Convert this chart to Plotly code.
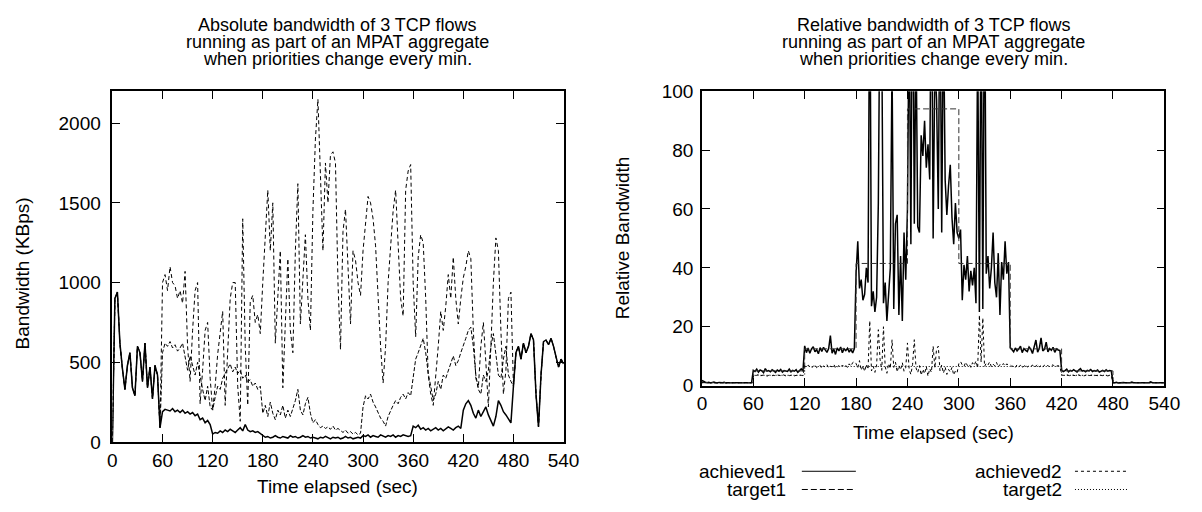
import plotly.graph_objects as go

W, H = 1202, 512

# ---------------- data: left panel (KBps, sampled every 3 s) ----------------
t_left = list(range(0, 541, 3))

common_start = [0, 900, 940, 620, 460, 330, 480, 560, 340, 290,
                600, 560, 380, 620, 340, 470, 270, 480, 420, 90]
common_end = [350, 560, 600, 520, 620, 560, 600, 680, 640, 300,
              95, 420, 630, 640, 610, 650, 600, 530, 470, 520, 490]

flow1_mid = [
    190, 205, 200, 195, 210, 190, 200, 185, 200, 180, 190, 175, 185, 165, 175, 140, 150, 120, 135, 110,
    50, 60, 55, 70, 60, 75, 65, 80, 70, 60, 75, 90, 70, 110, 75, 65, 70, 60, 65, 55,
    40, 30, 35, 25, 30, 40, 30, 25, 35, 30, 25, 40, 30, 35, 25, 30, 40, 30, 35, 25,
    30, 25, 20, 30, 25, 35, 25, 20, 30, 25, 30, 20, 25, 35, 25, 30, 20, 25, 30, 25,
    40, 35, 45, 30, 40, 35, 30, 45, 35, 30, 40, 35, 45, 30, 40, 35, 45, 40, 35, 40,
    100, 90, 105, 80, 90, 75, 85, 70, 80, 90, 75, 85, 70, 80, 95, 85, 75, 90, 100, 85,
    200, 240, 260, 230, 180, 150, 200, 160, 190, 220, 170, 130, 100, 160, 260, 230, 190, 170, 140, 120,
]
flow2_mid = [
    560, 620, 600, 630, 590, 610, 570, 590, 620, 520, 450, 540, 480, 420, 500, 400, 330, 260, 350, 220,
    200, 280, 350, 330, 400, 430, 460, 490, 440, 470, 430, 450, 400, 420, 380, 390, 350, 370, 330, 350,
    180, 230, 160, 250, 180, 140, 200, 170, 230, 150, 200, 160, 210, 260, 330, 200, 170, 240, 280, 180,
    120, 140, 110, 90, 100, 85, 95, 80, 100, 75, 85, 70, 60, 75, 55, 65, 50, 60, 45, 55,
    220, 290, 270, 300, 250, 220, 180, 150, 130, 100, 160, 200, 230, 260, 240, 280, 300, 270, 310, 290,
    400, 520, 560, 600, 650, 560, 430, 350, 260, 300, 380, 330, 420, 400, 450, 500, 540, 480, 510, 560,
    600, 650, 700, 720, 600, 420, 330, 300, 420, 380, 450, 600, 680, 560, 420, 400, 520, 600, 420, 380,
]
flow3_mid = [
    1000, 1050, 950, 1100, 1000, 980, 900, 950, 870, 1070, 600, 380, 700, 950, 1000, 240, 450, 700, 750, 400,
    200, 350, 550, 700, 820, 230, 600, 900, 1000, 1000, 350, 130, 1400, 600, 230, 880, 920, 750, 800, 680,
    1000, 1300, 1580, 1200, 1500, 620, 900, 1200, 340, 800, 1150, 700, 560, 1200, 1620, 740, 1000, 1300, 900, 700,
    1450, 1900, 2150, 1700, 1200, 1750, 1500, 1800, 1820, 1750, 1000, 580, 1320, 1460, 1100, 740, 1200, 1140, 1000, 920,
    1200, 1350, 1540, 1500, 1400, 1230, 900, 600, 370, 600, 1000, 1260, 1450, 1580, 1200, 900, 790, 1580, 1700, 1740,
    1000, 660, 1160, 1300, 1250, 900, 420, 300, 230, 400, 600, 820, 700, 850, 1050, 900, 1160, 900, 740, 900,
    1030, 1100, 1200, 1150, 700, 400, 340, 600, 750, 500, 220, 600, 1000, 1280, 1200, 700, 300, 450, 900, 940,
]
flow1 = common_start + flow1_mid + common_end
flow2 = common_start + flow2_mid + common_end
flow3 = common_start + flow3_mid + common_end

# ---------------- data: right panel (relative bandwidth, every 2 s) ----------------
t_right = list(range(0, 541, 2))

achieved1 = [
    1.8, 1.4, 1.2, 1.0, 1.1, 0.9, 1.0, 1.2, 1.0, 0.9, 1.1, 1.0, 1.0, 1.1, 0.9, 1.0, 1.0, 1.1, 1.0, 0.9,
    1.0, 1.1, 1.0, 1.0, 0.9, 1.0, 1.1, 1.0, 1.0, 1.0,
    5.2, 4.8, 5.6, 4.6, 5.3, 5.0, 4.4, 5.8, 4.9, 5.1, 4.7, 5.4, 5.0, 4.5, 5.3, 4.9, 5.5, 4.6, 5.1, 5.0,
    4.8, 5.6, 4.7, 5.2, 4.9, 5.4, 4.5, 5.1, 5.7, 5.0,
    13.5, 11.2, 12.8, 11.0, 12.5, 13.2, 11.5, 12.2, 10.8, 12.9, 11.6, 13.0, 12.1, 11.3, 12.6, 17.0, 11.0, 12.4, 10.6, 12.8,
    11.8, 13.1, 11.2, 12.5, 11.9, 12.7, 11.4, 12.3, 11.1, 12.6,
    38, 49, 33, 36, 29, 31, 40, 35, 150, 27, 32, 25, 30, 62, 140, 120, 28, 35, 22, 30,
    40, 110, 26, 55, 58, 24, 44, 22, 52, 36,
    60, 130, 48, 160, 55, 120, 54, 52, 85, 78, 90, 74, 82, 70, 150, 50, 110, 97, 60, 140,
    52, 130, 70, 58, 68, 75, 57, 48, 62, 52,
    50, 53, 29, 41, 36, 44, 32, 39, 34, 40, 28, 120, 25, 140, 26, 150, 38, 44, 33, 40,
    52, 35, 30, 45, 24, 42, 36, 49, 38, 42,
    13.0, 12.2, 11.5, 12.8, 11.8, 12.5, 13.4, 11.2, 12.6, 12.0, 11.6, 13.1, 12.4, 10.9, 12.9, 15.5, 11.4, 12.7, 16.2, 11.8,
    12.3, 14.8, 11.5, 12.6, 12.0, 13.0, 11.3, 12.5, 12.1, 11.9,
    5.3, 4.8, 5.1, 5.6, 4.7, 5.2, 4.9, 5.4, 5.0, 4.6, 5.3, 5.8, 4.9, 5.1, 4.7, 5.2, 5.0, 5.5, 4.8, 5.1,
    4.9, 5.3, 4.6, 5.0, 5.2, 4.8, 5.4, 4.9, 5.1, 5.0,
    1.0, 1.0, 1.1, 0.9, 1.0, 1.0, 1.1, 1.0, 0.9, 1.0, 1.0, 1.2, 1.0, 1.0, 0.9, 1.0, 1.1, 1.0, 1.0, 1.0,
    0.9, 1.0, 1.3, 1.0, 1.0, 1.0, 1.1, 1.0, 0.9, 1.0, 1.0,
]
achieved2 = [
    1.3, 1.1, 1.0, 1.0, 1.0, 0.9, 1.0, 1.0, 1.1, 1.0, 1.0, 1.0, 0.9, 1.0, 1.0, 1.0, 1.1, 1.0, 1.0, 1.0,
    1.0, 0.9, 1.0, 1.0, 1.0, 1.1, 1.0, 1.0, 1.0, 1.0,
    3.6, 3.4, 3.5, 3.8, 3.3, 3.5, 3.6, 3.4, 3.2, 3.5, 3.7, 3.4, 3.5, 3.3, 3.6, 3.5, 3.4, 3.8, 3.5, 3.3,
    3.6, 3.4, 3.5, 3.7, 3.3, 3.5, 3.4, 3.6, 3.5, 3.4,
    6.8, 6.2, 7.0, 6.4, 5.9, 6.6, 7.2, 6.1, 6.5, 6.9, 5.8, 6.7, 6.3, 7.1, 6.0, 6.6, 6.4, 7.3, 5.9, 6.5,
    6.8, 6.2, 7.0, 6.4, 6.9, 6.1, 7.4, 6.6, 7.8, 8.2,
    7.5, 6.0, 8.5, 5.2, 6.8, 4.8, 7.2, 5.5, 22.0, 5.0, 6.6, 4.5, 7.0, 19.0, 9.0, 5.2, 20.0, 6.4, 4.2, 7.5,
    5.8, 15.6, 6.2, 8.0, 4.6, 6.9, 5.3, 7.8, 4.9, 6.0,
    14.5, 5.5, 3.8, 7.2, 15.6, 6.0, 4.4, 6.8, 3.5, 5.6, 4.0, 6.5, 3.2, 5.8, 4.5, 13.4, 6.0, 12.5, 13.4, 5.0,
    7.0, 4.2, 6.3, 3.8, 5.5, 4.6, 6.2, 3.6, 5.0, 4.4,
    7.5, 8.2, 7.0, 6.5, 8.0, 6.8, 7.4, 6.2, 7.8, 6.9, 8.4, 6.0, 24.0, 8.0, 23.0, 6.5, 7.6, 7.0, 8.1, 6.4,
    7.3, 6.7, 7.9, 6.3, 7.2, 6.8, 7.5, 6.6, 7.4, 6.9,
    7.0, 6.5, 6.8, 6.2, 7.1, 6.4, 6.9, 6.0, 6.7, 7.2, 6.3, 6.8, 6.5, 7.0, 6.1, 6.6, 7.3, 6.4, 6.8, 6.2,
    7.0, 6.5, 6.9, 6.3, 6.7, 7.1, 6.4, 6.6, 6.8, 6.5,
    3.6, 3.5, 3.4, 3.7, 3.5, 3.3, 3.6, 3.5, 3.4, 3.8, 3.5, 3.4, 3.6, 3.3, 3.5, 3.7, 3.4, 3.5, 3.6, 3.3,
    3.5, 3.4, 3.7, 3.5, 3.4, 3.6, 3.5, 3.3, 3.5, 3.4,
    1.0, 1.0, 1.0, 1.1, 1.0, 1.0, 0.9, 1.0, 1.0, 1.0, 1.1, 1.0, 1.0, 1.0, 0.9, 1.0, 1.0, 1.0, 1.1, 1.0,
    1.0, 1.0, 1.0, 0.9, 1.0, 1.0, 1.0, 1.1, 1.0, 1.0, 1.0,
]
target_t = [0, 60, 120, 180, 240, 300, 360, 420, 480, 540]
target1 = [1, 5, 12.5, 41.5, 94, 41.5, 12.5, 5, 1, 1]
target2 = [1, 3.5, 6.5, 6.5, 6.5, 6.5, 6.5, 3.5, 1, 1]

x_ticks = list(range(0, 541, 60))
left_y_ticks = [0, 500, 1000, 1500, 2000]
right_y_ticks = [0, 20, 40, 60, 80, 100]

titles = ["Absolute bandwidth of 3 TCP flows", "Relative bandwidth of 3 TCP flows"]
title_rest = ["running as part of an MPAT aggregate", "when priorities change every min."]
legend_names = ["achieved1", "target1", "achieved2", "target2"]

FONT = "Liberation Sans, Arial, Helvetica, sans-serif"
FS = 19


def px(x):
    return x / W


def py(y):
    return 1 - y / H


fig = go.Figure()
# left panel
fig.add_trace(go.Scatter(x=t_left, y=flow1, mode="lines", line=dict(color="black", width=1.5),
                         xaxis="x", yaxis="y", showlegend=False))
fig.add_trace(go.Scatter(x=t_left, y=flow2, mode="lines", line=dict(color="black", width=1, dash="4px,2px"),
                         xaxis="x", yaxis="y", showlegend=False))
fig.add_trace(go.Scatter(x=t_left, y=flow3, mode="lines", line=dict(color="black", width=1, dash="4px,3px"),
                         xaxis="x", yaxis="y", showlegend=False))
# right panel
fig.add_trace(go.Scatter(x=t_right, y=achieved1, mode="lines", line=dict(color="black", width=1.5),
                         xaxis="x2", yaxis="y2", showlegend=False))
fig.add_trace(go.Scatter(x=target_t, y=target1, mode="lines", line_shape="hv",
                         line=dict(color="#333333", width=1, dash="6px,3px"),
                         xaxis="x2", yaxis="y2", showlegend=False))
fig.add_trace(go.Scatter(x=t_right, y=achieved2, mode="lines", line=dict(color="black", width=1, dash="3px,3px"),
                         xaxis="x2", yaxis="y2", showlegend=False))
fig.add_trace(go.Scatter(x=target_t, y=target2, mode="lines", line_shape="hv",
                         line=dict(color="black", width=1, dash="1px,2px"),
                         xaxis="x2", yaxis="y2", showlegend=False))

axis_common = dict(ticks="inside", ticklen=8, tickwidth=1, tickcolor="black", showline=True,
                   linecolor="black", linewidth=1.5, mirror="ticks", showgrid=False, zeroline=False,
                   tickfont=dict(family=FONT, size=FS, color="black"))

fig.update_layout(
    width=W, height=H, margin=dict(l=0, r=0, t=0, b=0),
    paper_bgcolor="white", plot_bgcolor="white",
    font=dict(family=FONT, size=FS, color="black"),
    xaxis=dict(domain=[px(109.3), px(568.5)], range=[0, 540], tickvals=x_ticks, anchor="y", **axis_common),
    yaxis=dict(domain=[py(450.5), py(84.7)], range=[0, 2200], tickvals=left_y_ticks, anchor="x",
               ticklabelstandoff=6, **axis_common),
    xaxis2=dict(domain=[px(709.3), px(1180)], range=[0, 540], tickvals=x_ticks, anchor="y2", **axis_common),
    yaxis2=dict(domain=[py(391.7), py(84.7)], range=[0, 100], tickvals=right_y_ticks, anchor="x2",
                ticklabelstandoff=3, **axis_common),
)

ann = []
TFS = 18
for cx, t1, t2, t3 in [(338.9, titles[0], title_rest[0], title_rest[1]),
                       (944.6, titles[1], title_rest[0], title_rest[1])]:
    for text, cy in [(t1, 16), (t2, 33.5), (t3, 51)]:
        ann.append(dict(x=px(cx), y=py(cy), xref="paper", yref="paper", text=text, showarrow=False,
                        xanchor="center", yanchor="middle", borderpad=0,
                        font=dict(family=FONT, size=TFS, color="black")))
# axis titles
ann.append(dict(x=px(18), y=py(275), xref="paper", yref="paper", text="Bandwidth (KBps)", textangle=-90,
                showarrow=False, xanchor="center", yanchor="middle"))
ann.append(dict(x=px(628), y=py(238), xref="paper", yref="paper", text="Relative Bandwidth", textangle=-90,
                showarrow=False, xanchor="center", yanchor="middle"))
ann.append(dict(x=px(338.9), y=py(497), xref="paper", yref="paper", text="Time elapsed (sec)",
                showarrow=False, xanchor="center", yanchor="middle"))
ann.append(dict(x=px(944.6), y=py(441), xref="paper", yref="paper", text="Time elapsed (sec)",
                showarrow=False, xanchor="center", yanchor="middle"))

# legend (text right-aligned, sample to the right)
legend_layout = [(796, 811, 866, 481), (796, 811, 866, 500), (1077, 1089, 1142, 481), (1077, 1089, 1142, 500)]
legend_dash = ["solid", "6px,3px", "3px,3px", "1px,2px"]
shapes = []
for name, (tx, x0, x1, yy), dash in zip(legend_names, legend_layout, legend_dash):
    ann.append(dict(x=px(tx), y=py(yy), xref="paper", yref="paper", text=name, showarrow=False,
                    xanchor="right", yanchor="middle", borderpad=0))
    shapes.append(dict(type="line", xref="paper", yref="paper", x0=px(x0), x1=px(x1), y0=py(yy), y1=py(yy),
                       line=dict(color="black", width=1, dash=dash)))
fig.update_layout(annotations=ann, shapes=shapes)

fig.write_html("out.html")
